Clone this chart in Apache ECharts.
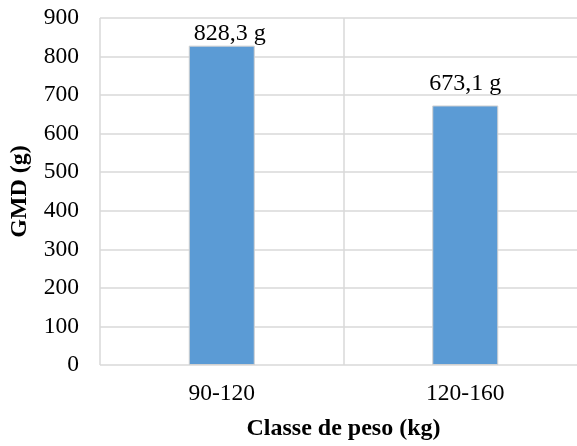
<!DOCTYPE html>
<html>
<head>
<meta charset="utf-8">
<style>
  html, body { margin: 0; padding: 0; background: #fff; overflow: hidden; }
  /* canvas is a little wider than the window so the plot area runs off the right edge */
  #chart { width: 590px; height: 446px; }
</style>
<script src="https://cdn.jsdelivr.net/npm/echarts@6/dist/echarts.min.js"></script>
</head>
<body>
<div id="chart"></div>
<script>
// Weight classes and average daily gain (GMD) per class
const categories = ['90-120', '120-160'];
const gmdValues = [828.3, 673.1];
const yTicks = [0, 100, 200, 300, 400, 500, 600, 700, 800, 900];

const FONT = '"Liberation Serif", "Times New Roman", serif';
const GRID_COLOR = '#d9d9d9';

// Label placement tweaks per bar (distance above bar, horizontal shift)
const labelTweaks = [
  { distance: 0, offset: [8, 0] },
  { distance: 10, offset: [0, 0] }
];

const fmt = v => v.toFixed(1).replace('.', ',') + ' g';

const chart = echarts.init(document.getElementById('chart'), null, { renderer: 'canvas' });

chart.setOption({
  animation: false,
  backgroundColor: '#ffffff',
  grid: { left: 99, right: 3, top: 18, bottom: 79, containLabel: false },
  xAxis: {
    type: 'category',
    data: categories,
    boundaryGap: true,
    axisLine: { show: false },
    axisTick: { show: false },
    splitLine: { show: true, lineStyle: { color: GRID_COLOR, width: 1.5 } },
    axisLabel: { color: '#000', fontFamily: FONT, fontSize: 23.5, margin: 17 },
    name: 'Classe de peso (kg)',
    nameLocation: 'middle',
    nameGap: 52,
    nameTextStyle: { color: '#000', fontFamily: FONT, fontSize: 24, fontWeight: 'bold' }
  },
  yAxis: {
    type: 'value',
    min: yTicks[0],
    max: yTicks[yTicks.length - 1],
    interval: yTicks[1] - yTicks[0],
    axisLine: { show: false },
    axisTick: { show: false },
    splitLine: { show: true, lineStyle: { color: GRID_COLOR, width: 1.5 } },
    axisLabel: { color: '#000', fontFamily: FONT, fontSize: 23.5, margin: 21 },
    name: 'GMD (g)',
    nameLocation: 'middle',
    nameRotate: 90,
    nameGap: 68,
    nameTextStyle: { color: '#000', fontFamily: FONT, fontSize: 24, fontWeight: 'bold' }
  },
  series: [{
    type: 'bar',
    barWidth: 66,
    data: gmdValues.map((v, i) => ({
      value: v,
      label: { distance: labelTweaks[i].distance, offset: labelTweaks[i].offset }
    })),
    itemStyle: { color: '#5b9bd5', borderColor: '#d0d0d0', borderWidth: 1 },
    label: {
      show: true,
      position: 'top',
      color: '#000',
      fontFamily: FONT,
      fontSize: 24,
      formatter: p => fmt(p.value)
    }
  }]
});
</script>
</body>
</html>
